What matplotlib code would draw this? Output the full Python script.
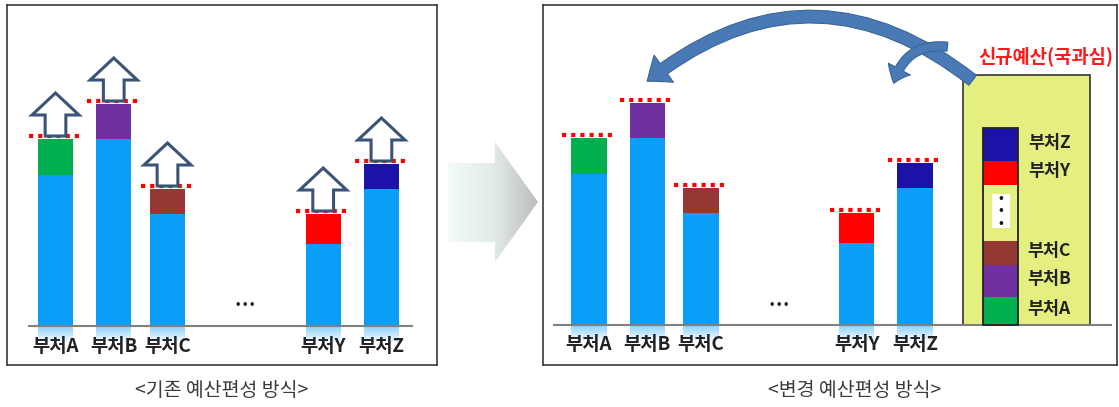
import numpy as np
import matplotlib
matplotlib.use('Agg')
import matplotlib.pyplot as plt
from matplotlib.patches import FancyArrow, FancyArrowPatch, Rectangle, Polygon
from matplotlib.colors import LinearSegmentedColormap

plt.rcParams['font.family'] = ['Noto Sans CJK KR', 'DejaVu Sans']

# 데이터
depts = ['부처A', '부처B', '부처C', '부처Y', '부처Z']
base_budget = [151, 187, 112, 82, 137]     # 기존 예산
increase = [36, 35, 25, 30, 25]            # 증액분
inc_colors = ['#00b050', '#7030a0', '#953735', '#ff0000', '#1c12a8']

# 신규예산(국과심) 스택 (아래 -> 위)
new_labels = ['부처A', '부처B', '부처C', '', '부처Y', '부처Z']
new_values = [28, 32, 24, 56, 24, 33]
new_colors = ['#00b050', '#7030a0', '#953735', '#e5ef7f', '#ff0000', '#1c12a8']

captions = ['<기존 예산편성 방식>', '<변경 예산편성 방식>']

W, H = 1119, 407
BLUE = '#0a9ef7'
x_pos = [0, 1.04, 2.0, 4.78, 5.82]
bw = 0.63

fig = plt.figure(figsize=(W / 100, H / 100), dpi=100)


def px_axes(x0, y0, x1, y1):
    return fig.add_axes([x0 / W, 1 - y1 / H, (x1 - x0) / W, (y1 - y0) / H])


def draw_bars(ax):
    tops = [b + i for b, i in zip(base_budget, increase)]
    ax.bar(x_pos, base_budget, width=bw, color=BLUE, zorder=2)
    ax.bar(x_pos, increase, bottom=base_budget, width=bw, color=inc_colors, zorder=2)
    # 바닥 반사 효과
    for k in range(8):
        ax.bar(x_pos, -2, bottom=-2 * k, width=bw, color=BLUE,
               alpha=0.45 * (1 - k / 8), lw=0, zorder=1)
    ax.hlines([t + 3 for t in tops], [x - 0.48 for x in x_pos], [x + 0.48 for x in x_pos],
              colors='#ff0000', lw=3, linestyles=(0, (1, 1.2)), zorder=4)
    for x, name in zip(x_pos, depts):
        ax.text(x, -20, name, ha='center', va='center', fontsize=13.5,
                fontweight='bold', color='#222222')
    ax.text((x_pos[2] + x_pos[3]) / 2, 21, '• • •', ha='center', va='center',
            fontsize=8.5, fontweight='bold', color='#222222')
    return tops


def style_panel(ax, xl, yl):
    ax.set_xlim(*xl)
    ax.set_ylim(*yl)
    ax.set_xticks([])
    ax.set_yticks([])
    for s in ax.spines.values():
        s.set_color('#3a3a3a')
        s.set_linewidth(1.2)


# 왼쪽: 기존 방식
ax1 = px_axes(7, 5, 437, 365)
style_panel(ax1, ((7 - 55.5) / 56, (437 - 55.5) / 56), (-39, 321))
ax1.hlines(0, -0.49, 6.38, colors='#808080', lw=1.5, zorder=3)
tops1 = draw_bars(ax1)
for x, t in zip(x_pos, tops1):
    ax1.add_patch(FancyArrow(x, t + 3, 0, 43, width=0.37, head_width=0.84,
                             head_length=22, length_includes_head=True,
                             fc='white', ec='#3a5478', lw=2.2, zorder=5))

# 오른쪽: 변경 방식
ax2 = px_axes(543, 5, 1117, 365)
style_panel(ax2, (-(589 - 543) / 56, (1117 - 589) / 56), (-40, 320))
ax2.add_patch(Rectangle((6.68, 0), 2.27, 250, fc='#e5ef7f', ec='#333333', lw=1.2, zorder=1))
ax2.hlines(0, -0.64, 9.34, colors='#808080', lw=1.5, zorder=3)
tops2 = draw_bars(ax2)

sx = 7.35
bottoms = np.concatenate([[0], np.cumsum(new_values)[:-1]])
ax2.bar(sx, new_values, bottom=bottoms, width=bw, color=new_colors, zorder=2)
ax2.add_patch(Rectangle((sx - bw / 2, 0), bw, sum(new_values), fill=False,
                        ec='#222222', lw=1.3, zorder=3))
gap_mid = bottoms[3] + new_values[3] / 2
ax2.add_patch(Rectangle((sx - 0.16, gap_mid - 15), 0.32, 34, fc='white', lw=0, zorder=3))
ax2.text(sx, gap_mid + 2, '•\n•\n•', ha='center', va='center', fontsize=9,
         fontweight='bold', linespacing=0.95, color='#111111', zorder=4)
for lab, b, v in zip(new_labels, bottoms, new_values):
    if lab:
        ax2.text(8.22, b + v / 2 + 2, lab, ha='center', va='center', fontsize=12.5,
                 fontweight='bold', color='#222222', zorder=4)
ax2.text(8.15, 269, '신규예산(국과심)', ha='center', va='center', fontsize=13.5,
         fontweight='bold', color='#ff1a1a', zorder=4)

# 재배분 화살표
big = FancyArrowPatch((6.89, 243), (1.0, 242), connectionstyle='arc3,rad=0.4',
                      arrowstyle='simple,head_length=1.5,head_width=2.4,tail_width=0.9',
                      mutation_scale=10, fc='#4a7ab5', ec='#3a6599', lw=0.8, zorder=6)
small = FancyArrowPatch((6.45, 278), (5.43, 239), connectionstyle='arc3,rad=0.45',
                        arrowstyle='simple,head_length=1.1,head_width=1.8,tail_width=0.65',
                        mutation_scale=10, fc='#4a7ab5', ec='#3a6599', lw=0.8, zorder=6)
ax2.add_patch(big)
ax2.add_patch(small)

# 가운데 회색 화살표
ov = fig.add_axes([0, 0, 1, 1], zorder=-1)
ov.set_xlim(0, W)
ov.set_ylim(H, 0)
ov.axis('off')
chev = Polygon([(448, 163), (495, 163), (495, 142), (538, 202), (495, 262),
                (495, 242), (448, 242)], closed=True, fc='none', ec='none')
ov.add_patch(chev)
cmap = LinearSegmentedColormap.from_list('g', ['#f4fbf9', '#e2ebea', '#bdbdbd'])
im = ov.imshow(np.linspace(0, 1, 200).reshape(1, -1), cmap=cmap, aspect='auto',
               extent=(448, 538, 262, 142))
im.set_clip_path(chev)

fig.text(222 / W, 1 - 390 / H, captions[0], ha='center', va='center', fontsize=14,
         fontweight='light', color='#3a3a3a')
fig.text(855 / W, 1 - 390 / H, captions[1], ha='center', va='center', fontsize=14,
         fontweight='light', color='#3a3a3a')

fig.savefig('out.png', dpi=100)
